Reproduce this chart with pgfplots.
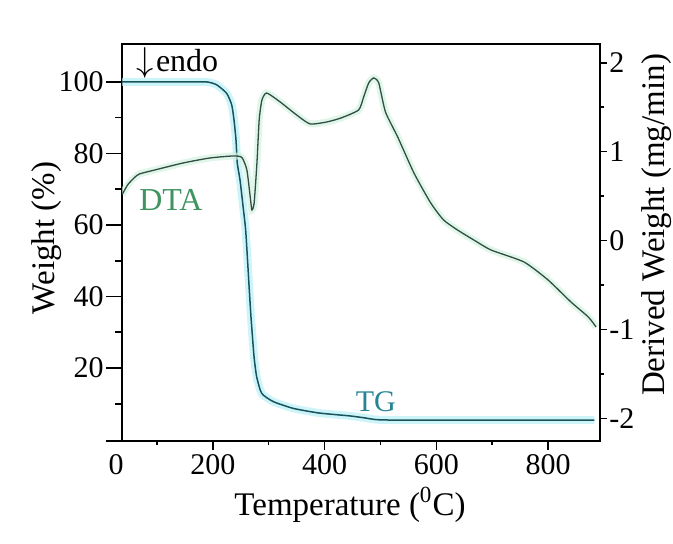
\documentclass[border=0pt]{standalone}
\usepackage{pgfplots}
\pgfplotsset{compat=1.18}
\usepackage{fontspec}
\setmainfont{Liberation Serif}
\definecolor{tgline}{rgb}{0.10,0.33,0.36}
\definecolor{tgglow}{rgb}{0.72,0.94,0.97}
\definecolor{dtaline}{rgb}{0.20,0.30,0.27}
\definecolor{dtaglow}{rgb}{0.82,0.95,0.88}
\definecolor{dtatext}{rgb}{0.25,0.58,0.38}
\definecolor{tgtext}{rgb}{0.15,0.52,0.58}
\pgfplotstableread{
x w
37.5 100
100 100
150 100
188.9 100
206.8 99.2
224.8 96.8
233.8 93.6
237.9 89.4
241.5 83.8
243.8 77.3
248.7 72.6
253.5 66.1
258.8 58.6
262.5 49.3
267.9 35.3
273.8 23.2
278.6 17.5
287.6 12.9
308.4 10.6
344.4 8.7
386.4 7.5
411 7.1
446.1 6.6
470 6.1
500 5.5
600 5.45
883 5.45
}\tgdata
\pgfplotstableread{
x v
38 0.52
48 0.63
60 0.71
69 0.75
100 0.80
147 0.873
195 0.929
237 0.952
252 0.935
261 0.794
267 0.490
270 0.344
274 0.423
279 0.873
283 1.357
288 1.582
296.5 1.660
320.5 1.559
350 1.413
374 1.312
404 1.334
430 1.38
461 1.469
470 1.615
479 1.773
488 1.829
497 1.773
509 1.447
531 1.164
560 0.760
590 0.423
613 0.232
638 0.119
667 0.007
698 -0.106
757 -0.241
800 -0.443
841 -0.691
872 -0.859
886 -0.972
}\dtadata
\pgfplotsset{
  common/.style={
    at={(61pt,51.5pt)}, anchor=south west,
    scale only axis, width=239pt, height=198.5pt,
    xmin=37.5, xmax=893,
    tick align=outside,
    /pgf/number format/assume math mode=true,
    /pgf/number format/1000 sep={},
    tick label style={font=\fontsize{15}{18}\selectfont},
    every tick/.style={black, line width=0.8pt},
    axis line style={line width=0.9pt},
  }
}
\begin{document}
\begin{tikzpicture}
\useasboundingbox (0,0) rectangle (336.5pt,272pt);
% x axis and box
\begin{axis}[common,
  ymin=-0.4, ymax=110.6,
  xtick={200,400,600,800}, minor xtick={100,300,500,700},
  ytick=\empty,
  extra x ticks={37.5}, extra x tick labels={0},
  extra x tick style={tick style={draw=none}, xticklabel style={xshift=-3pt}},
  xtick pos=bottom,
  xticklabel style={inner sep=2pt},
  major tick length=4.5pt, minor tick length=2pt,
  clip=false,
]
\draw[line width=0.9pt] (rel axis cs:-0.033,0) -- (rel axis cs:0,0);
\end{axis}
% left axis with TG
\begin{axis}[common,
  ymin=-0.4, ymax=110.6,
  axis x line=none, axis y line*=left,
  ytick={20,40,60,80,100}, minor ytick={10,30,50,70,90},
  yticklabel style={inner sep=1pt},
  major tick length=8pt, minor tick length=3.5pt,
  clip=false,
]
\addplot[tgglow, line width=4pt, opacity=0.7, smooth, tension=0.35] table[x=x,y=w]{\tgdata};
\addplot[tgline, line width=0.75pt, smooth, tension=0.35] table[x=x,y=w]{\tgdata};
\node[anchor=west, font=\fontsize{16}{19}\selectfont, inner sep=0pt] at (rel axis cs:0.030,0.952) {{\fontsize{19}{20}\selectfont$\downarrow$}\kern1pt endo};
\node[dtatext, font=\fontsize{16}{19}\selectfont, inner sep=0pt] at (rel axis cs:0.1025,0.607) {DTA};
\node[tgtext, font=\fontsize{15}{18}\selectfont, inner sep=0pt] at (rel axis cs:0.531,0.098) {TG};
\end{axis}
% right axis with DTA
\begin{axis}[common,
  ymin=-2.254, ymax=2.211,
  axis x line=none, axis y line*=right,
  ytick={-2,-1,0,1,2}, minor ytick={-1.5,-0.5,0.5,1.5},
  yticklabel style={inner sep=1pt},
  major tick length=3.5pt, minor tick length=2pt,
]
\addplot[dtaglow, line width=3.5pt, opacity=0.7, smooth, tension=0.35] table[x=x,y=v]{\dtadata};
\addplot[dtaline, line width=0.65pt, smooth, tension=0.35] table[x=x,y=v]{\dtadata};
\end{axis}
\node[font=\fontsize{16.5}{19}\selectfont] at (175pt,19.5pt) {Temperature (\textsuperscript{0}C)};
\node[rotate=90, font=\fontsize{16.5}{19}\selectfont] at (23.5pt,153pt) {Weight (\%)};
\node[rotate=90, font=\fontsize{16.5}{19}\selectfont] at (328.5pt,159.5pt) {Derived Weight (mg/min)};
\end{tikzpicture}
\end{document}
